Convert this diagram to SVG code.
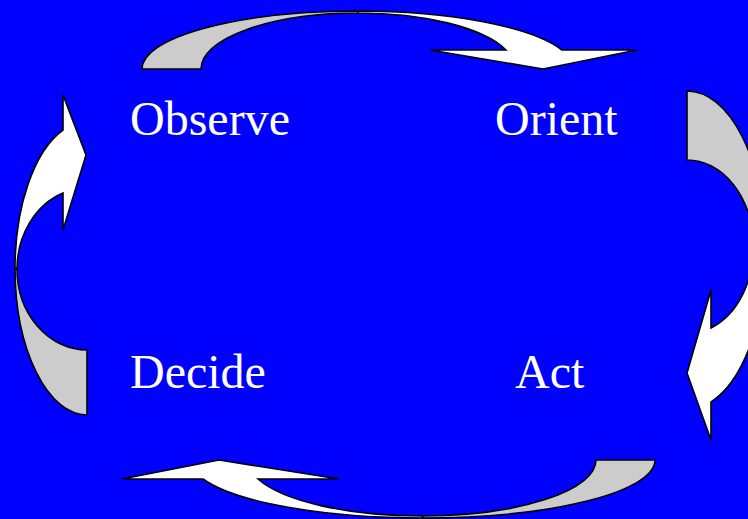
<svg xmlns="http://www.w3.org/2000/svg" width="748" height="519" viewBox="0 0 748 519">
<style>
.lbl{font-family:"Liberation Serif","Times New Roman",serif;font-size:48px;fill:#FFFFFF}
.back{fill:#CCCCCC;stroke:#000000;stroke-width:1.6;stroke-linejoin:miter}
.front{fill:#FFFFFF;stroke:#000000;stroke-width:1.6;stroke-linejoin:miter}
</style>
<rect x="0" y="0" width="748" height="519" fill="#0000FF"/>
<g id="connectors">
  <g id="arrow-observe-orient">
    <path class="back" d="M142,69 A216,58 0 0 1 358,11 L358,13 A157,56 0 0 0 201,69 Z"/>
    <path class="front" d="M358,11 A216,58 0 0 1 562,50 L637,50 L543,69 L430,50 L506,50 A157,56 0 0 0 358,13 Z"/>
  </g>
  <g id="arrow-orient-act">
    <path class="back" d="M687,91 A79,160 0 0 1 766,251 L753,245 A66,85 0 0 0 687,160 Z"/>
    <path class="front" d="M766,251 A79,160 0 0 1 711,402 L711,440 L687,373 L711,290 L711,328 A66,85 0 0 0 753,245 Z"/>
  </g>
  <g id="arrow-act-decide">
    <path class="back" d="M655,460 A232,58 0 0 1 423,518 L422,516 A174,56 0 0 0 596,460 Z"/>
    <path class="front" d="M423,518 A232,58 0 0 1 203,479 L122,479 L219,460 L339,479 L258,479 A174,56 0 0 0 422,516 Z"/>
  </g>
  <g id="arrow-decide-observe">
    <path class="back" d="M87,415 A72,147 0 0 1 15,268 L17,269 A70,81 0 0 0 87,350 Z"/>
    <path class="front" d="M15,268 A72,147 0 0 1 63,130 L63,95 L86,155 L63,230 L63,193 A70,81 0 0 0 17,269 Z"/>
  </g>
</g>
<g id="node-observe"><text class="lbl" x="130" y="135">Observe</text></g>
<g id="node-orient"><text class="lbl" x="495" y="135">Orient</text></g>
<g id="node-decide"><text class="lbl" x="130" y="388">Decide</text></g>
<g id="node-act"><text class="lbl" x="515" y="388">Act</text></g>
</svg>
